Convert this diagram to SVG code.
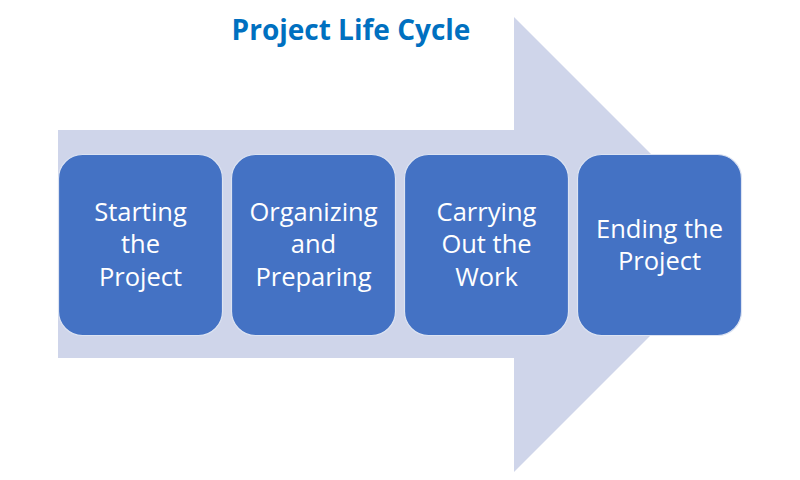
<svg xmlns="http://www.w3.org/2000/svg" width="800" height="480" viewBox="0 0 800 480">
<style>
.box{fill:#4472C4;stroke:#DCE3F2;stroke-width:1.2}
.lbl{font-family:"Open Sans","Noto Sans","Liberation Sans",sans-serif;font-size:25.5px;fill:#FFFFFF;text-anchor:middle}
.title{font-family:"Open Sans","Noto Sans","Liberation Sans",sans-serif;font-size:28px;font-weight:bold;fill:#0070C0;text-anchor:middle}
</style>
<rect width="800" height="480" fill="#FFFFFF"/>
<g id="arrow">
<polygon points="58,130 514,130 514,17 741.5,244.5 514,472 514,358 58,358" fill="#CFD5EA"/>
</g>
<text class="title" x="351" y="39.5">Project Life Cycle</text>
<g id="connectors"></g>
<g id="n1">
<rect class="box" x="58.5" y="154.5" width="164" height="181" rx="24"/>
<text class="lbl" x="140.5" y="220.5">Starting</text>
<text class="lbl" x="140.5" y="253">the</text>
<text class="lbl" x="140.5" y="285.5">Project</text>
</g>
<g id="n2">
<rect class="box" x="231.5" y="154.5" width="164" height="181" rx="24"/>
<text class="lbl" x="313.5" y="220.5">Organizing</text>
<text class="lbl" x="313.5" y="253">and</text>
<text class="lbl" x="313.5" y="285.5">Preparing</text>
</g>
<g id="n3">
<rect class="box" x="404.5" y="154.5" width="164" height="181" rx="24"/>
<text class="lbl" x="486.5" y="220.5">Carrying</text>
<text class="lbl" x="486.5" y="253">Out the</text>
<text class="lbl" x="486.5" y="285.5">Work</text>
</g>
<g id="n4">
<rect class="box" x="577.5" y="154.5" width="164" height="181" rx="24"/>
<text class="lbl" x="659.5" y="237.5">Ending the</text>
<text class="lbl" x="659.5" y="270">Project</text>
</g>
</svg>
